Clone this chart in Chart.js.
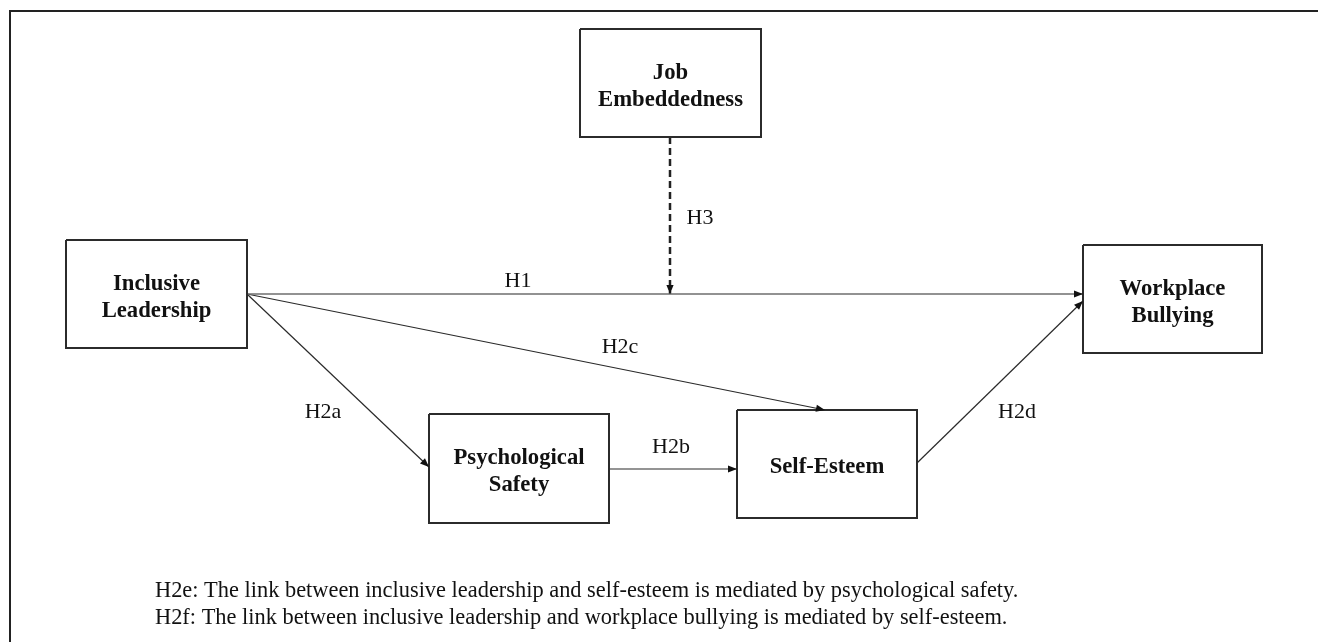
<!DOCTYPE html>
<html>
<head>
<meta charset="utf-8">
<script src="https://cdn.jsdelivr.net/npm/chart.js@4"></script>
<style>
  html, body { margin: 0; padding: 0; background: #fff; }
  #wrap { width: 1318px; height: 642px; }
</style>
</head>
<body>
<div id="wrap"><canvas id="myChart" width="1318" height="642"></canvas></div>
<script>
// Research model: boxes (constructs), arrows (hypotheses), notes
// Coordinates are in the chart's own units (0..1318 across, 0..642 down)

const boxNames = ['Job Embeddedness', 'Inclusive Leadership', 'Workplace Bullying', 'Psychological Safety', 'Self-Esteem']
const boxLines = [['Job', 'Embeddedness'], ['Inclusive', 'Leadership'], ['Workplace', 'Bullying'], ['Psychological', 'Safety'], ['Self-Esteem']]
const boxLeft   = [580, 66, 1083, 429, 737]
const boxRight  = [761, 247, 1262, 609, 917]
const boxTop    = [29, 240, 245, 414, 410]
const boxBottom = [137, 348, 353, 523, 518]

const pathNames = ['H1', 'H2a', 'H2b', 'H2c', 'H2d', 'H3']
const pathFrom  = [[247, 294], [247, 294], [609, 469], [247, 294], [917, 463], [670, 137]]
const pathTo    = [[1083, 294], [429, 467], [737, 469], [825, 410], [1083, 301], [670, 294]]
const pathDashed = [false, false, false, false, false, true]
const labelPos  = [[518, 281], [323, 412], [671, 447], [620, 347], [1017, 412], [700, 218]]

const notes = [
  'H2e: The link between inclusive leadership and self-esteem is mediated by psychological safety.',
  'H2f: The link between inclusive leadership and workplace bullying is mediated by self-esteem.'
]
const notePos = [[155, 597], [155, 624]]

const SERIF = '"Liberation Serif", "Times New Roman", serif'

// build datasets: box outlines first, then arrows
let datasets = []
boxNames.forEach((name, i) => {
  datasets.push({
    label: name,
    data: [
      {x: boxLeft[i], y: boxTop[i]}, {x: boxRight[i], y: boxTop[i]},
      {x: boxRight[i], y: boxBottom[i]}, {x: boxLeft[i], y: boxBottom[i]},
      {x: boxLeft[i], y: boxTop[i]}
    ],
    showLine: true,
    borderColor: '#2b2b2b',
    borderWidth: 2,
    pointRadius: 0,
    borderJoinStyle: 'miter',
    tension: 0
  })
})
pathNames.forEach((name, i) => {
  datasets.push({
    label: name,
    data: [{x: pathFrom[i][0], y: pathFrom[i][1]}, {x: pathTo[i][0], y: pathTo[i][1]}],
    showLine: true,
    borderColor: pathDashed[i] ? '#222' : (name === 'H1' ? '#6e6e6e' : '#2a2a2a'),
    borderWidth: pathDashed[i] ? 2.5 : (name === 'H1' ? 1.6 : 1.2),
    borderDash: pathDashed[i] ? [7, 4] : [],
    pointRadius: 0,
    tension: 0
  })
})

// frame (top + left edge of the figure border)
const frame = {
  id: 'frame',
  beforeDatasetsDraw(chart) {
    const {ctx, scales: {x, y}} = chart
    ctx.save()
    ctx.strokeStyle = '#222'
    ctx.lineWidth = 2
    ctx.beginPath()
    ctx.moveTo(x.getPixelForValue(10), y.getPixelForValue(642))
    ctx.lineTo(x.getPixelForValue(10), y.getPixelForValue(11))
    ctx.lineTo(x.getPixelForValue(1318), y.getPixelForValue(11))
    ctx.stroke()
    ctx.restore()
  }
}

// arrowheads and all text
const diagram = {
  id: 'diagram',
  afterDatasetsDraw(chart) {
    const {ctx, scales: {x, y}} = chart
    ctx.save()

    // arrow heads
    pathNames.forEach((name, i) => {
      const x0 = x.getPixelForValue(pathFrom[i][0]), y0 = y.getPixelForValue(pathFrom[i][1])
      const x1 = x.getPixelForValue(pathTo[i][0]), y1 = y.getPixelForValue(pathTo[i][1])
      const a = Math.atan2(y1 - y0, x1 - x0)
      const len = 9, half = 3.6
      ctx.fillStyle = '#111'
      ctx.beginPath()
      ctx.moveTo(x1, y1)
      ctx.lineTo(x1 - len * Math.cos(a) + half * Math.sin(a), y1 - len * Math.sin(a) - half * Math.cos(a))
      ctx.lineTo(x1 - len * Math.cos(a) - half * Math.sin(a), y1 - len * Math.sin(a) + half * Math.cos(a))
      ctx.closePath()
      ctx.fill()
    })

    // box labels
    ctx.fillStyle = '#111'
    ctx.textAlign = 'center'
    ctx.textBaseline = 'alphabetic'
    ctx.font = 'bold 22.7px ' + SERIF
    boxNames.forEach((name, i) => {
      const cx = x.getPixelForValue((boxLeft[i] + boxRight[i]) / 2)
      const cy = y.getPixelForValue((boxTop[i] + boxBottom[i]) / 2)
      const lines = boxLines[i]
      const step = 27
      const first = cy + 9 - (lines.length - 1) * step / 2
      lines.forEach((t, k) => ctx.fillText(t, cx, first + k * step))
    })

    // hypothesis labels
    ctx.font = '22px ' + SERIF
    ctx.textBaseline = 'middle'
    pathNames.forEach((name, i) => {
      ctx.fillText(name, x.getPixelForValue(labelPos[i][0]), y.getPixelForValue(labelPos[i][1]))
    })

    // notes under the model
    ctx.textAlign = 'left'
    ctx.textBaseline = 'alphabetic'
    ctx.font = '22.4px ' + SERIF
    notes.forEach((t, i) => {
      ctx.fillText(t, x.getPixelForValue(notePos[i][0]), y.getPixelForValue(notePos[i][1]))
    })
    ctx.restore()
  }
}

const ctx = document.getElementById('myChart')
const myChart = new Chart(ctx, {
  type: 'scatter',
  data: { datasets: datasets },
  options: {
    responsive: false,
    animation: false,
    layout: { padding: 0 },
    scales: {
      x: { type: 'linear', min: 0, max: 1318, display: false },
      y: { type: 'linear', min: 0, max: 642, reverse: true, display: false }
    },
    plugins: {
      legend: { display: false },
      tooltip: { enabled: false }
    },
    events: []
  },
  plugins: [frame, diagram]
})
</script>
</body>
</html>
